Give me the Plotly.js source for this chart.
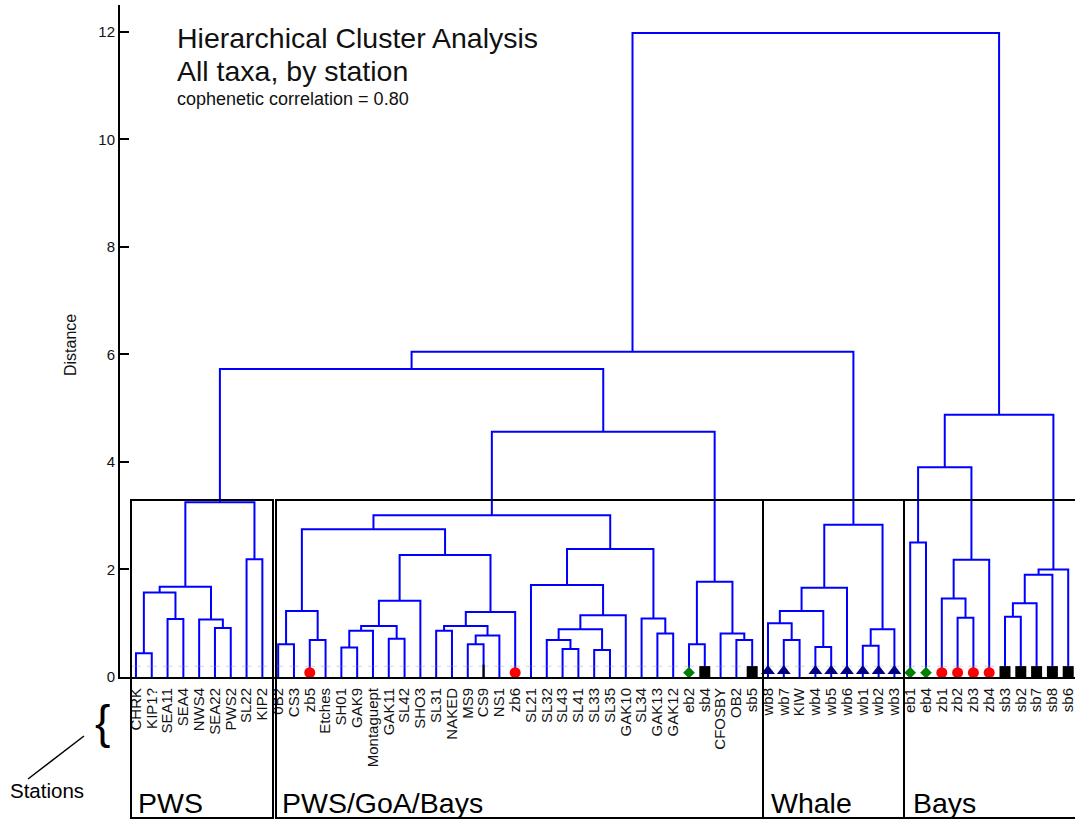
<!DOCTYPE html>
<html>
<head>
<meta charset="utf-8">
<script src="https://cdn.plot.ly/plotly-3.0.1.min.js"></script>
<style>
  html, body { margin: 0; padding: 0; background: #fff; overflow: hidden; }
  #chart { width: 1075px; height: 820px; }
</style>
</head>
<body>
<div id="chart"></div>
<script>
// Stations in dendrogram leaf order
const stations = [
  'CHRK', 'KIP1?', 'SEA11', 'SEA4', 'NWS4', 'SEA22', 'PWS2', 'SL22', 'KIP2',
  '0B2', 'CS3', 'zb5', 'Etches', 'SH01', 'GAK9', 'Montaguept', 'GAK11', 'SL42', 'SHO3',
  'SL31', 'NAKED', 'MS9', 'CS9', 'NS1', 'zb6', 'SL21', 'SL32', 'SL43', 'SL41', 'SL33',
  'SL35', 'GAK10', 'SL34', 'GAK13', 'GAK12', 'eb2', 'sb4', 'CFOSBY', 'OB2', 'sb5',
  'wb8', 'wb7', 'KIW', 'wb4', 'wb5', 'wb6', 'wb1', 'wb2', 'wb3',
  'eb1', 'eb4', 'zb1', 'zb2', 'zb3', 'zb4', 'sb3', 'sb2', 'sb7', 'sb8', 'sb6'
];

// Station type symbol shown at each leaf ('' = none)
const stationType = [
  '', '', '', '', '', '', '', '', '',
  '', '', 'zb', '', '', '', '', '', '', '',
  '', '', '', 'cs', '', 'zb', '', '', '', '', '',
  '', '', '', '', '', 'eb', 'sb', '', '', 'sb',
  'wb', 'wb', '', 'wb', 'wb', 'wb', 'wb', 'wb', 'wb',
  'eb', 'eb', 'zb', 'zb', 'zb', 'zb', 'sb', 'sb', 'sb', 'sb', 'sb'
];

// Linkage: [childA, childB, distance]; ids below stations.length are stations,
// id stations.length + k refers to merge k
const merges = [
  [0, 1, 0.44],     // 60
  [2, 3, 1.08],     // 61
  [5, 6, 0.91],     // 62
  [4, 62, 1.07],    // 63
  [60, 61, 1.57],   // 64
  [64, 63, 1.68],   // 65
  [7, 8, 2.19],     // 66
  [65, 66, 3.25],   // 67
  [9, 10, 0.61],    // 68
  [11, 12, 0.69],   // 69
  [68, 69, 1.23],   // 70
  [13, 14, 0.55],   // 71
  [71, 15, 0.86],   // 72
  [16, 17, 0.71],   // 73
  [72, 73, 0.95],   // 74
  [74, 18, 1.42],   // 75
  [19, 20, 0.86],   // 76
  [21, 22, 0.61],   // 77
  [77, 23, 0.77],   // 78
  [76, 78, 0.95],   // 79
  [79, 24, 1.21],   // 80
  [75, 80, 2.27],   // 81
  [70, 81, 2.75],   // 82
  [27, 28, 0.52],   // 83
  [26, 83, 0.69],   // 84
  [29, 30, 0.50],   // 85
  [84, 85, 0.89],   // 86
  [86, 31, 1.15],   // 87
  [25, 87, 1.71],   // 88
  [33, 34, 0.81],   // 89
  [32, 89, 1.09],   // 90
  [88, 90, 2.38],   // 91
  [82, 91, 3.01],   // 92
  [35, 36, 0.61],   // 93
  [38, 39, 0.69],   // 94
  [37, 94, 0.81],   // 95
  [93, 95, 1.77],   // 96
  [92, 96, 4.56],   // 97
  [67, 97, 5.73],   // 98
  [41, 42, 0.69],   // 99
  [40, 99, 1.00],   // 100
  [43, 44, 0.56],   // 101
  [100, 101, 1.23], // 102
  [102, 45, 1.66],  // 103
  [46, 47, 0.58],   // 104
  [104, 48, 0.89],  // 105
  [103, 105, 2.83], // 106
  [98, 106, 6.05],  // 107
  [49, 50, 2.50],   // 108
  [52, 53, 1.10],   // 109
  [51, 109, 1.46],  // 110
  [110, 54, 2.18],  // 111
  [108, 111, 3.90], // 112
  [55, 56, 1.12],   // 113
  [113, 57, 1.37],  // 114
  [114, 58, 1.90],  // 115
  [115, 59, 2.00],  // 116
  [112, 116, 4.88], // 117
  [107, 117, 11.98] // 118
];

const yTicks = [0, 2, 4, 6, 8, 10, 12];
const groupNames = ['PWS', 'PWS/GoA/Bays', 'Whale', 'Bays'];
const titleLines = ['Hierarchical Cluster Analysis', 'All taxa, by station'];
const subtitle = 'cophenetic correlation = 0.80';

// Build the dendrogram path: each merge is drawn as an inverted U
const nodeX = stations.map((_, i) => i);
const nodeH = stations.map(() => 0);
const lx = [], ly = [];
merges.forEach(([a, b, h]) => {
  const xa = nodeX[a], xb = nodeX[b];
  lx.push(xa, xa, xb, xb, null);
  ly.push(nodeH[a], h, h, nodeH[b], null);
  nodeX.push((xa + xb) / 2);
  nodeH.push(h);
});

const idx = stations.map((_, i) => i);
const FONT = 'Liberation Sans, Arial, Helvetica, sans-serif';

const traces = [
  {
    x: lx, y: ly, type: 'scatter', mode: 'lines',
    line: { color: '#0000ff', width: 2 }, hoverinfo: 'skip', showlegend: false
  },
  {
    // faint leaf ticks
    x: idx, y: idx.map(() => 0.2), type: 'scatter', mode: 'markers',
    marker: { symbol: 'line-ew', size: 7, line: { color: 'rgba(140,140,200,0.4)', width: 1 } },
    hoverinfo: 'skip', showlegend: false
  }
];

const symbolStyles = {
  zb: { symbol: 'circle', size: 11, color: '#ff0000', y: 0.08 },
  eb: { symbol: 'diamond', size: 9, color: '#008000', y: 0.08 },
  sb: { symbol: 'square', size: 11, color: '#000000', y: 0.1 },
  wb: { symbol: 'triangle-up', size: 12, color: '#000080', y: 0.11 },
  cs: { symbol: 'line-ns', size: 10, color: '#000000', y: 0.1 }
};
Object.keys(symbolStyles).forEach(key => {
  const s = symbolStyles[key];
  const pts = idx.filter(i => stationType[i] === key);
  const marker = { symbol: s.symbol, size: s.size, color: s.color };
  if (key === 'cs') marker.line = { color: s.color, width: 2 };
  traces.push({
    x: pts, y: pts.map(() => s.y), type: 'scatter', mode: 'markers',
    marker: marker, text: pts.map(i => stations[i]), hoverinfo: 'text',
    showlegend: false, cliponaxis: false
  });
});

// paper-coordinate helpers (plot area: x 120..1075 px, y 5..677 px)
const px = v => (v - 120) / 955;
const py = v => (677 - v) / 672;

const boxTop = py(500), boxBottom = py(818);
const boxEdges = [[131, 273], [276, 763], [763, 904], [904, 1080]];
const shapes = boxEdges.map(([a, b]) => ({
  type: 'rect', xref: 'paper', yref: 'paper',
  x0: px(a), x1: px(b), y0: boxBottom, y1: boxTop,
  line: { color: '#000', width: 2 }, fillcolor: 'rgba(0,0,0,0)'
}));
shapes.push({
  type: 'line', xref: 'paper', yref: 'paper',
  x0: px(84), y0: py(736), x1: px(28), y1: py(779),
  line: { color: '#000', width: 1.5 }
});

const groupX = [136, 280, 769, 911];
const annotations = groupNames.map((t, i) => ({
  text: t, xref: 'paper', yref: 'paper', x: px(groupX[i]), y: py(803),
  xanchor: 'left', yanchor: 'middle', showarrow: false,
  font: { family: FONT, size: 28.5, color: '#000' }
}));
annotations.push(
  { text: titleLines[0], xref: 'paper', yref: 'paper', x: px(175), y: py(38),
    xanchor: 'left', yanchor: 'middle', showarrow: false,
    font: { family: FONT, size: 28.5, color: '#111' } },
  { text: titleLines[1], xref: 'paper', yref: 'paper', x: px(175), y: py(71),
    xanchor: 'left', yanchor: 'middle', showarrow: false,
    font: { family: FONT, size: 28.5, color: '#111' } },
  { text: subtitle, xref: 'paper', yref: 'paper', x: px(175), y: py(99),
    xanchor: 'left', yanchor: 'middle', showarrow: false,
    font: { family: FONT, size: 18, color: '#111' } },
  { text: 'Distance', xref: 'paper', yref: 'paper', x: px(70), y: py(345),
    xanchor: 'center', yanchor: 'middle', textangle: -90, showarrow: false,
    font: { family: FONT, size: 16, color: '#111' } },
  { text: '{', xref: 'paper', yref: 'paper', x: px(102), y: py(722),
    xanchor: 'center', yanchor: 'middle', showarrow: false,
    font: { family: FONT, size: 46, color: '#000' } },
  { text: 'Stations', xref: 'paper', yref: 'paper', x: px(8), y: py(790),
    xanchor: 'left', yanchor: 'middle', showarrow: false,
    font: { family: FONT, size: 20.5, color: '#000' } }
);

const layout = {
  width: 1075, height: 820,
  margin: { l: 120, r: 0, t: 5, b: 143 },
  paper_bgcolor: '#fff', plot_bgcolor: '#fff',
  font: { family: FONT, color: '#111' },
  showlegend: false,
  xaxis: {
    range: [-1.01, 59.43], tickmode: 'array', tickvals: idx, ticktext: stations,
    tickangle: -90, ticks: 'outside', ticklen: 3, tickcolor: 'rgba(0,0,0,0)',
    ticklabeloverflow: 'allow',
    tickfont: { family: FONT, size: 15, color: '#111' },
    showline: true, linecolor: '#000', linewidth: 2,
    showgrid: false, zeroline: false, fixedrange: true
  },
  yaxis: {
    range: [0, 12.5], tickmode: 'array', tickvals: yTicks,
    ticks: 'inside', ticklen: 9, tickwidth: 2, tickcolor: '#000',
    tickfont: { family: FONT, size: 15, color: '#111' },
    showline: true, linecolor: '#000', linewidth: 2,
    showgrid: false, zeroline: false, fixedrange: true
  },
  shapes: shapes,
  annotations: annotations
};

Plotly.newPlot('chart', traces, layout, { displayModeBar: false, staticPlot: true });
</script>
</body>
</html>
